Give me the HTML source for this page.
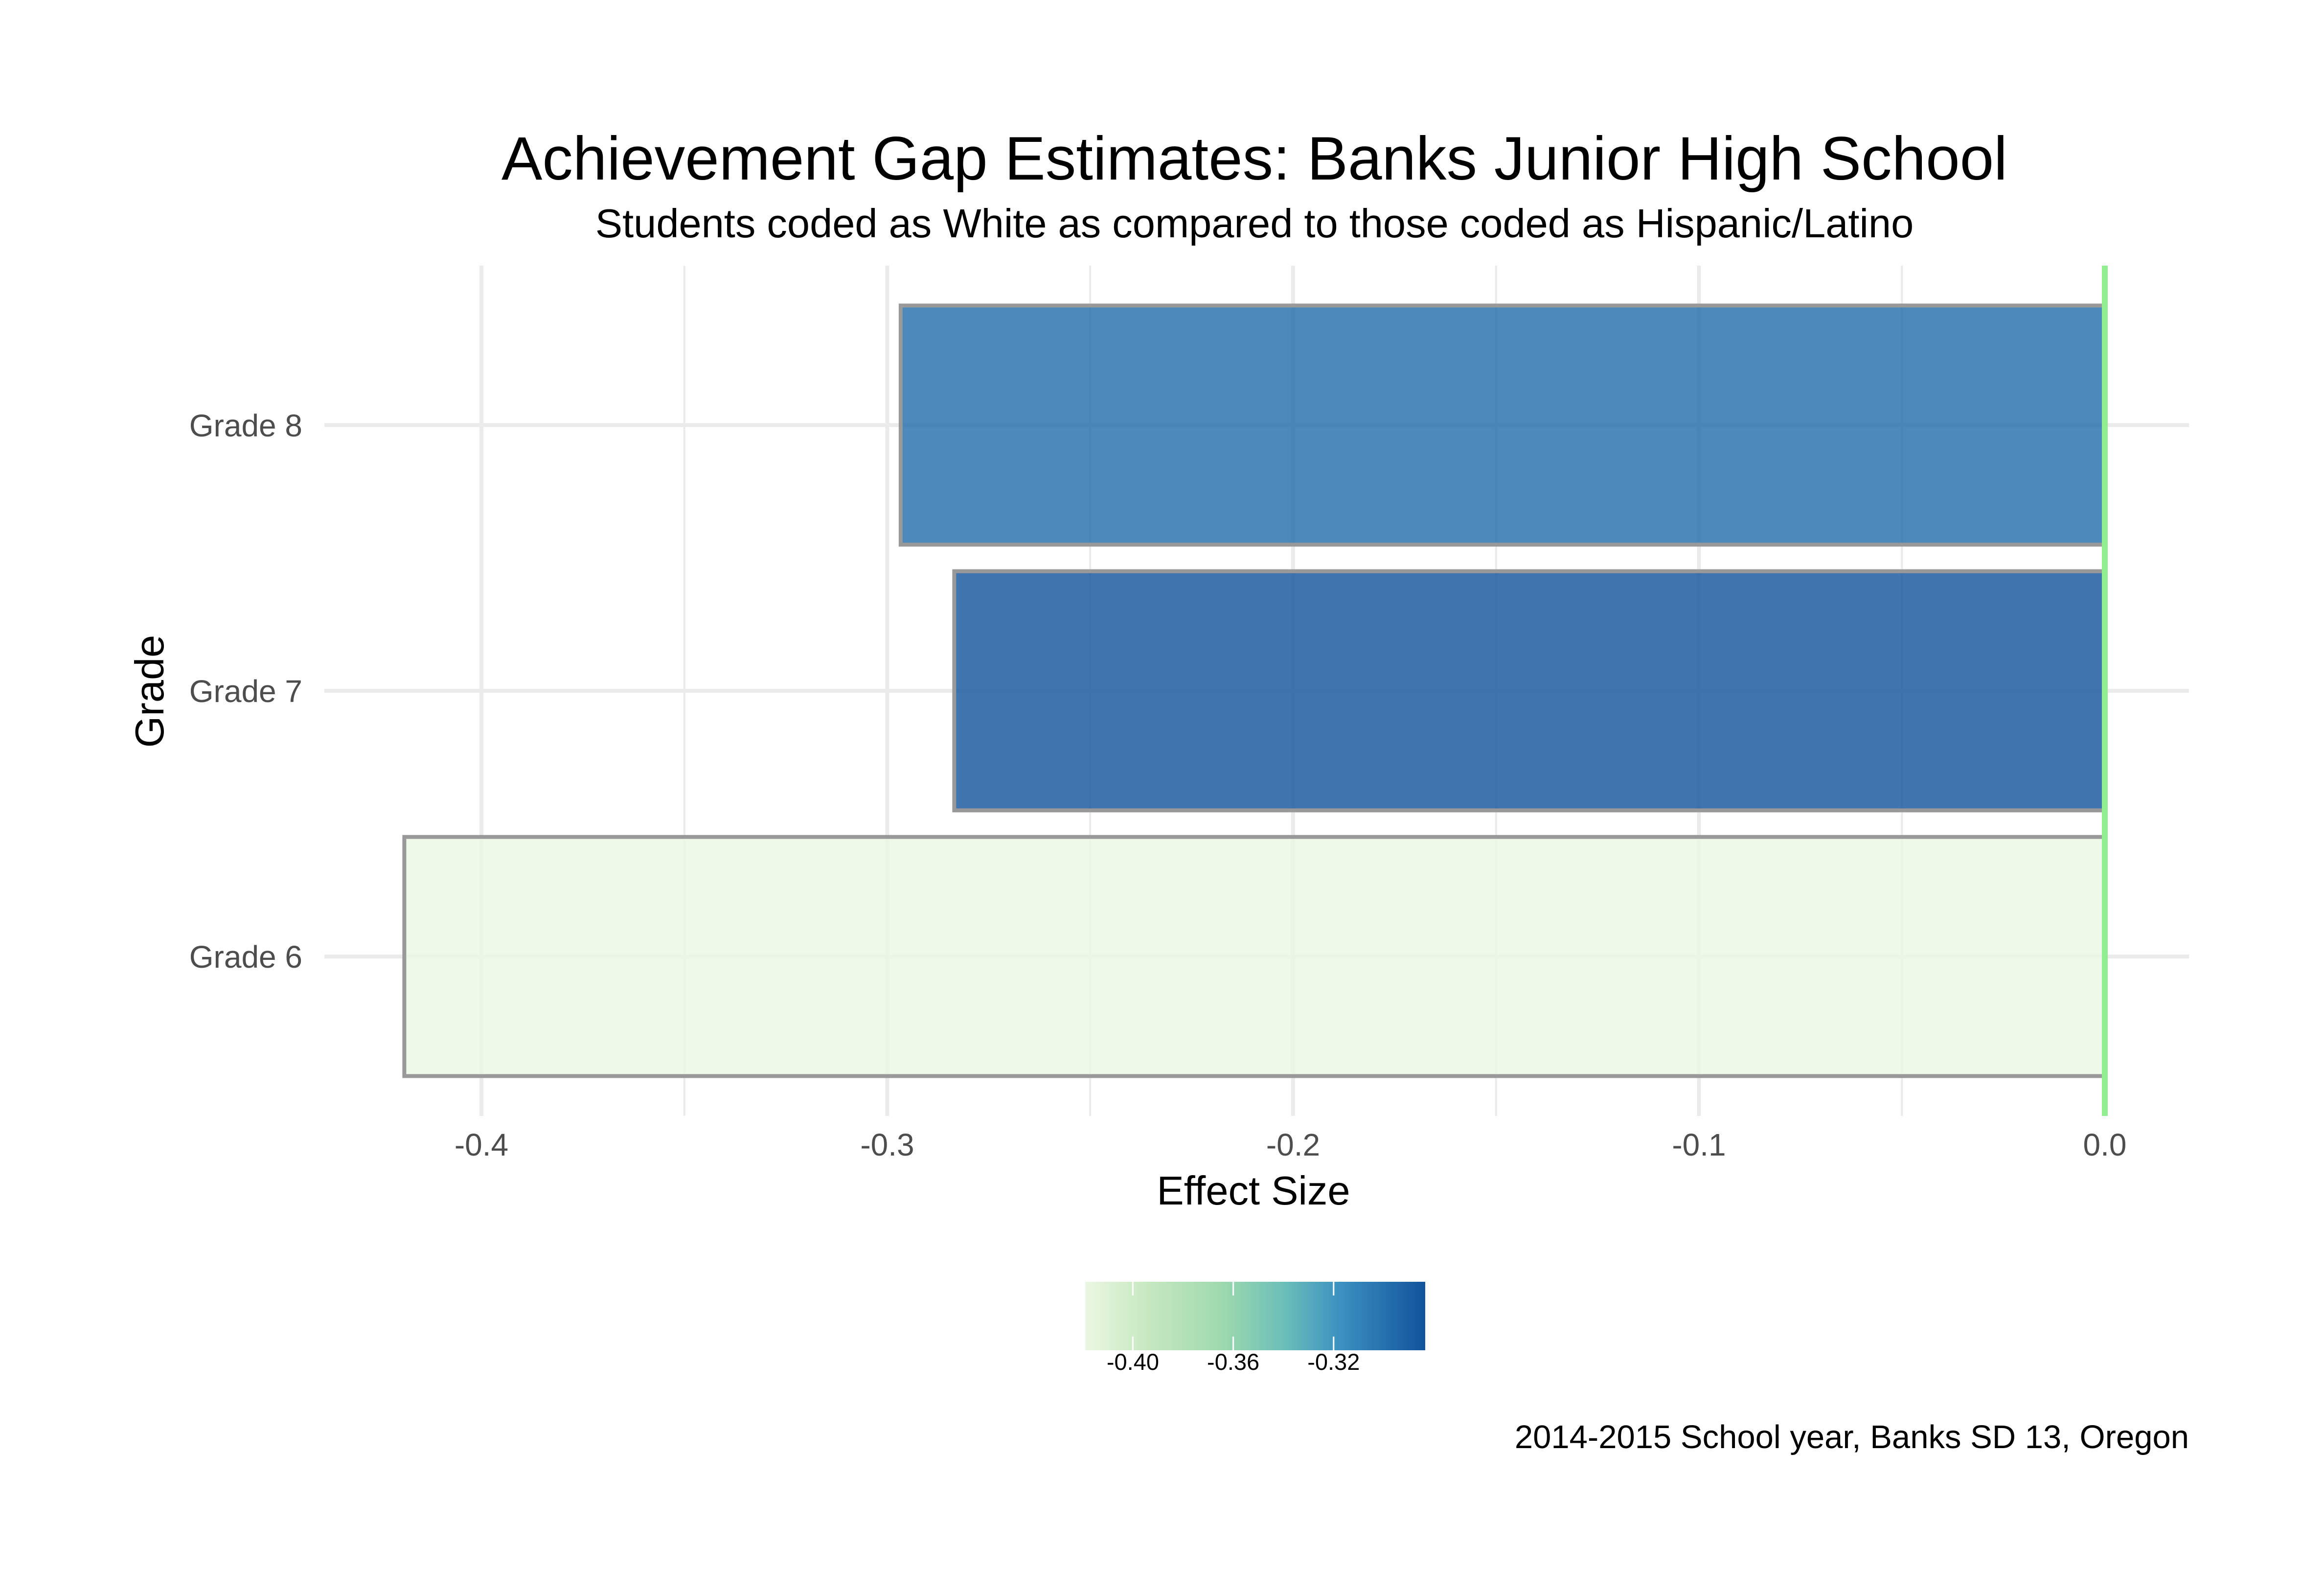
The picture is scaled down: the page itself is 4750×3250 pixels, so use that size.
<!DOCTYPE html>
<html><head><meta charset="utf-8"><style>
html,body{margin:0;padding:0;background:#fff;}
svg{display:block;font-family:"Liberation Sans",Arial,sans-serif;}
</style></head><body>
<svg id="chart" width="4750" height="3250" viewBox="0 0 4750 3250" xmlns="http://www.w3.org/2000/svg">
<rect width="4750" height="3250" fill="#fff"/>
<text x="2564" y="367" font-size="125" text-anchor="middle" fill="#000">Achievement Gap Estimates: Banks Junior High School</text>
<text x="2564" y="485" font-size="83" text-anchor="middle" fill="#000">Students coded as White as compared to those coded as Hispanic/Latino</text>
<g id="grid"></g>
<g id="bars"></g>
<g id="xticks"></g>
<g id="yticks"></g>
<text x="2562" y="2462" font-size="83" text-anchor="middle" fill="#000">Effect Size</text>
<text transform="translate(334,1413) rotate(-90)" font-size="83" text-anchor="middle" fill="#000">Grade</text>
<defs><linearGradient id="cbar" x1="0" x2="1" y1="0" y2="0">
<stop offset="0" stop-color="#ebf7e3"/><stop offset="0.17" stop-color="#c9eac2"/><stop offset="0.4" stop-color="#9fd9ae"/><stop offset="0.58" stop-color="#6cc0b8"/><stop offset="0.75" stop-color="#3b91c0"/><stop offset="1" stop-color="#12539c"/>
</linearGradient></defs>
<g id="legend"></g>
<text x="4474" y="2960" font-size="67" text-anchor="end" fill="#000">2014-2015 School year, Banks SD 13, Oregon</text>
</svg>
<script>
const categories = ["Grade 6", "Grade 7", "Grade 8"];
const values = [-0.419, -0.2835, -0.2967];
const xTicks = [-0.4, -0.3, -0.2, -0.1, 0.0];
const xTickLabels = ["-0.4", "-0.3", "-0.2", "-0.1", "0.0"];
const legendTicks = [-0.40, -0.36, -0.32];
const legendTickLabels = ["-0.40", "-0.36", "-0.32"];

const NS = "http://www.w3.org/2000/svg";
const PL = 663, PR = 4474, PT = 543, PB = 2281;
const x = v => 4302 + v * 8295;
const step = (PB - PT) / (categories.length + 0.2);
const y = i => PB - step * (0.6 + i);
function mk(tag, attrs, parent){const e=document.createElementNS(NS,tag);for(const k in attrs)e.setAttribute(k,attrs[k]);parent.appendChild(e);return e;}
const grid=document.getElementById('grid'), bars=document.getElementById('bars'), xt=document.getElementById('xticks'), yt=document.getElementById('yticks'), lg=document.getElementById('legend');

for(let i=0;i<xTicks.length-1;i++){
  const v=(xTicks[i]+xTicks[i+1])/2;
  const l=mk('line',{x1:x(v),x2:x(v),y1:PT,y2:PB,stroke:'#ebebeb','stroke-width':4},grid);
  
  
}
xTicks.forEach((v,i)=>{
  const l=mk('line',{x1:x(v),x2:x(v),y1:PT,y2:PB,stroke:'#ebebeb','stroke-width':8},grid);
  
  
  const t=mk('text',{x:x(v),y:2362,'font-size':64,'text-anchor':'middle',fill:'#4d4d4d'},xt);
  t.textContent=xTickLabels[i];
  
  
});
categories.forEach((c,i)=>{
  const l=mk('line',{x1:PL,x2:PR,y1:y(i),y2:y(i),stroke:'#ebebeb','stroke-width':8},grid);
  
  
  const t=mk('text',{x:618,y:y(i)+23,'font-size':64,'text-anchor':'end',fill:'#4d4d4d'},yt);
  t.textContent=c;
  
  
});

const stops=[[0,[235,247,227]],[0.17,[201,234,194]],[0.4,[159,217,174]],[0.58,[108,192,184]],[0.75,[59,145,192]],[1,[18,83,156]]];
const vmin=Math.min(...values), vmax=Math.max(...values);
function color(v){
  const t=(v-vmin)/(vmax-vmin||1);
  for(let k=0;k<stops.length-1;k++){
    const [a,ca]=stops[k],[b,cb]=stops[k+1];
    if(t<=b){const f=(t-a)/(b-a);return 'rgb('+ca.map((c,j)=>Math.round(c+(cb[j]-c)*f)).join(',')+')';}
  }
  return 'rgb(18,83,156)';
}
const hh=step*0.45;
values.forEach((v,i)=>{
  const x0=Math.min(x(v),x(0)), w=Math.abs(x(0)-x(v));
  const r=mk('rect',{x:x0,y:y(i)-hh,width:w,height:2*hh,fill:color(v),'fill-opacity':0.8,stroke:'#999999','stroke-width':8},bars);
  
  
});
const zl=mk('line',{x1:x(0),x2:x(0),y1:PT,y2:PB,stroke:'#90ee90','stroke-width':12},bars);



const LX0=2218, LX1=2913, LY0=2620, LY1=2760;
const lx=v=>LX0+(v-vmin)/(vmax-vmin)*(LX1-LX0);
const cb=mk('rect',{x:LX0,y:LY0,width:LX1-LX0,height:LY1-LY0,fill:'url(#cbar)'},lg);


legendTicks.forEach((v,i)=>{
  mk('line',{x1:lx(v),x2:lx(v),y1:LY0,y2:LY0+28,stroke:'#fff','stroke-width':3},lg);
  mk('line',{x1:lx(v),x2:lx(v),y1:LY1-28,y2:LY1,stroke:'#fff','stroke-width':3},lg);
  const t=mk('text',{x:lx(v),y:2800,'font-size':47,'text-anchor':'middle',fill:'#000'},lg);
  t.textContent=legendTickLabels[i];
  
  
});
</script>
</body></html>
